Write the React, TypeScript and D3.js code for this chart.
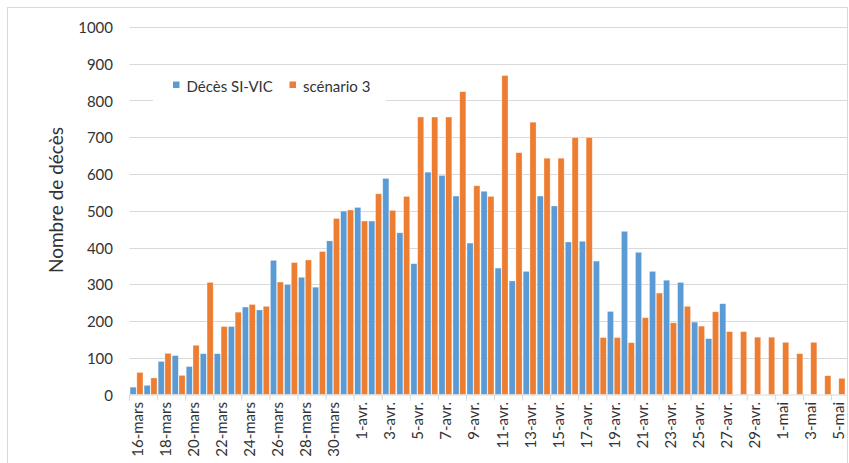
import { useEffect, useRef } from 'react';
import * as d3 from 'd3';

const marsDays = d3.range(16, 32).map(d => `${d}-mars`);
const avrDays = d3.range(1, 31).map(d => `${d}-avr.`);
const maiDays = d3.range(1, 6).map(d => `${d}-mai`);
const categories = [...marsDays, ...avrDays, ...maiDays];

// Décès SI-VIC (16-mars -> 27-avr.)
const siVic = [
  20, 25, 90, 106, 76, 111, 111, 185, 238, 230, 365, 299, 319, 292, 418, 499,
  509, 472, 588, 440, 356, 605, 596, 540, 412, 553, 344, 309, 335, 540, 513, 415,
  417, 363, 226, 444, 387, 335, 311, 305, 197, 152, 247,
];

// scénario 3 (16-mars -> 5-mai)
const scenario3 = [
  60, 45, 112, 52, 134, 305, 185, 224, 245, 240, 306, 359, 366, 389, 479, 502,
  472, 546, 501, 539, 755, 755, 755, 824, 568, 539, 868, 658, 741, 643, 643, 699,
  699, 155, 155, 141, 209, 276, 195, 240, 186, 225, 171, 171, 156, 156,
  142, 111, 142, 51, 44,
];

const yTicks = [0, 100, 200, 300, 400, 500, 600, 700, 800, 900, 1000];
const seriesNames = ['Décès SI-VIC', 'scénario 3'];
const colors = ['#5b9bd5', '#ed7d31'];

const font = 'Lato, "Open Sans", sans-serif';
const textColor = '#333333';

function BarChart() {
  const svgRef = useRef<SVGSVGElement>(null);

  useEffect(() => {
    if (!svgRef.current) return;
    const svg = d3.select(svgRef.current);
    svg.selectAll('*').remove();

    const width = 849;
    const height = 463;
    const left = 129.5;
    const right = 845.5;
    const yBase = 394.5;
    const yTop = 27;

    // chart frame
    svg.append('rect')
      .attr('x', 7.5).attr('y', 7.5)
      .attr('width', width - 9).attr('height', height + 10)
      .attr('fill', '#fff').attr('stroke', '#d9d9d9').attr('stroke-width', 1);

    const x0 = d3.scaleBand<string>().domain(categories).range([left, right]).paddingInner(0.08).paddingOuter(0.04);
    const x1 = d3.scaleBand<string>().domain(seriesNames).range([0, x0.bandwidth()]).paddingInner(0.1);
    const y = d3.scaleLinear().domain([0, 1000]).range([yBase, yTop]);

    // gridlines
    svg.append('g').selectAll('line')
      .data(yTicks.filter(t => t > 0))
      .join('line')
      .attr('x1', left).attr('x2', right + 2)
      .attr('y1', d => Math.round(y(d)) + 0.5).attr('y2', d => Math.round(y(d)) + 0.5)
      .attr('stroke', '#d9d9d9').attr('stroke-width', 1);

    // y labels
    svg.append('g').selectAll('text')
      .data(yTicks)
      .join('text')
      .attr('x', 113).attr('y', d => y(d))
      .attr('text-anchor', 'end').attr('dominant-baseline', 'central')
      .attr('font-family', font).attr('font-size', 15).attr('fill', textColor)
      .text(d => String(d));

    // bars
    const g = svg.append('g');
    const series = [siVic, scenario3];
    series.forEach((vals, si) => {
      g.append('g').selectAll('rect')
        .data(vals.map((v, i) => ({ cat: categories[i], v })))
        .join('rect')
        .attr('x', d => (x0(d.cat) ?? 0) + (x1(seriesNames[si]) ?? 0))
        .attr('width', x1.bandwidth())
        .attr('y', d => y(d.v))
        .attr('height', d => yBase - y(d.v))
        .attr('fill', colors[si])
        .attr('stroke', '#fff').attr('stroke-opacity', 0.5).attr('stroke-width', 0.6);
    });

    // x axis line and ticks
    svg.append('line')
      .attr('x1', left).attr('x2', right + 2)
      .attr('y1', yBase + 0.5).attr('y2', yBase + 0.5)
      .attr('stroke', '#d9d9d9').attr('stroke-width', 1);

    const step = x0.step();
    const tickCats = categories.filter((_, i) => i % 2 === 0);
    svg.append('g').selectAll('line')
      .data(tickCats)
      .join('line')
      .attr('x1', d => (x0(d) ?? 0) - (x0.paddingInner() * step) / 2)
      .attr('x2', d => (x0(d) ?? 0) - (x0.paddingInner() * step) / 2)
      .attr('y1', yBase).attr('y2', yBase + 6)
      .attr('stroke', '#d9d9d9').attr('stroke-width', 1);

    // x labels, every 2 categories
    svg.append('g').selectAll('text')
      .data(tickCats)
      .join('text')
      .attr('transform', d => `translate(${(x0(d) ?? 0) + x0.bandwidth() / 2},402) rotate(-90)`)
      .attr('text-anchor', 'end').attr('dominant-baseline', 'central')
      .attr('font-family', font).attr('font-size', 15).attr('fill', textColor)
      .text(d => d);

    // y title
    svg.append('text')
      .attr('transform', 'translate(55,200) rotate(-90)')
      .attr('text-anchor', 'middle').attr('dominant-baseline', 'central')
      .attr('font-family', font).attr('font-size', 19).attr('fill', textColor)
      .text('Nombre de décès');

    // legend
    const legend = svg.append('g');
    legend.append('rect')
      .attr('x', 153).attr('y', 72).attr('width', 233).attr('height', 34)
      .attr('fill', '#fff');
    const items = [
      { name: seriesNames[0], color: colors[0], x: 173 },
      { name: seriesNames[1], color: colors[1], x: 289.5 },
    ];
    items.forEach(it => {
      legend.append('rect')
        .attr('x', it.x).attr('y', 81.5).attr('width', 6.5).attr('height', 6.5)
        .attr('fill', it.color);
      legend.append('text')
        .attr('x', it.x + 13.5).attr('y', 85.5)
        .attr('dominant-baseline', 'central')
        .attr('font-family', font).attr('font-size', 15).attr('fill', textColor)
        .text(it.name);
    });
  }, []);

  return (
    <svg ref={svgRef} width={849} height={463}
      style={{ position: 'absolute', left: 0, top: 0, display: 'block' }} />
  );
}

export default function App() {
  return <BarChart />;
}
